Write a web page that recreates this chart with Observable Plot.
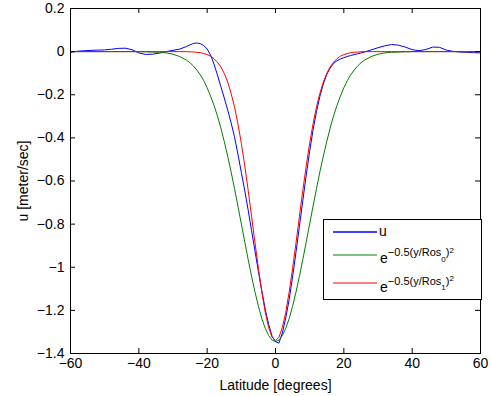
<!DOCTYPE html>
<html><head><meta charset="utf-8">
<script src="https://cdn.jsdelivr.net/npm/d3@7"></script>
<script src="https://cdn.jsdelivr.net/npm/@observablehq/plot@0.6"></script>
<style>
body{margin:0;background:#fff;}
#wrap{position:relative;width:491px;height:396px;font-family:"Liberation Sans",Arial,sans-serif;}
#legend{position:absolute;left:323px;top:219px;}
</style></head><body><div id="wrap"></div>
<script>
// Latitude grid (degrees)
const lat = [-60,-58,-56,-54,-52,-50,-48,-46,-44,-42,-40,-38,-36,-34,-32,-30,-28,
  -26,-25,-24,-23,-22,-21,-20,-19,-18,-17,-16,-15,-14,-13,-12,-11,-10,-9,-8,-7,-6,-5,-4,-3,-2,-1,
  0,
  1,2,3,4,5,6,7,8,9,10,11,12,13,14,15,16,17,18,19,20,21,22,23,24,25,26,
  28,30,32,34,36,38,40,42,44,46,48,50,52,54,56,58,60];

// observed u (blue)
const uObs = [-0.003,0.002,0.004,0.006,0.007,0.008,0.011,0.015,0.016,0.009,-0.006,-0.013,-0.012,-0.007,0.000,0.006,0.012,
  0.024,0.032,0.038,0.040,0.037,0.028,0.012,-0.016,-0.058,-0.108,-0.162,-0.215,-0.270,-0.330,-0.395,-0.475,-0.560,-0.645,-0.735,-0.830,-0.925,-1.020,-1.110,-1.195,-1.265,-1.320,
  -1.345,
  -1.352,-1.305,-1.235,-1.150,-1.045,-0.930,-0.810,-0.690,-0.572,-0.462,-0.362,-0.278,-0.207,-0.150,-0.106,-0.076,-0.055,-0.042,-0.034,-0.028,-0.023,-0.018,-0.014,-0.010,-0.006,-0.002,
  0.008,0.018,0.027,0.033,0.030,0.021,0.009,0.004,0.010,0.021,0.020,0.007,0.001,-0.002,-0.003,-0.005,-0.006];

// e^{-0.5(y/Ros0)^2} fit (green)
const gauss0 = [0,0,0,0,0,0,0,0,0,0,0,-0.001,-0.002,-0.003,-0.006,-0.012,-0.023,
  -0.040,-0.052,-0.067,-0.086,-0.108,-0.135,-0.168,-0.206,-0.249,-0.298,-0.354,-0.417,-0.485,-0.557,-0.635,-0.716,-0.799,-0.882,-0.964,-1.042,-1.115,-1.181,-1.238,-1.283,-1.317,-1.338,
  -1.345,
  -1.338,-1.317,-1.283,-1.238,-1.181,-1.115,-1.042,-0.964,-0.882,-0.799,-0.716,-0.635,-0.557,-0.485,-0.417,-0.354,-0.298,-0.249,-0.206,-0.168,-0.135,-0.108,-0.086,-0.067,-0.052,-0.040,
  -0.023,-0.012,-0.006,-0.003,-0.002,-0.001,0,0,0,0,0,0,0,0,0,0,0];

// e^{-0.5(y/Ros1)^2} fit (red)
const gauss1 = [0,0,0,0,0,0,0,0,0,0,0,0,0,0,0,0,0,
  0,-0.001,-0.002,-0.003,-0.005,-0.009,-0.014,-0.021,-0.033,-0.049,-0.071,-0.101,-0.141,-0.193,-0.256,-0.334,-0.425,-0.529,-0.643,-0.764,-0.887,-1.005,-1.115,-1.209,-1.280,-1.325,
  -1.340,
  -1.325,-1.280,-1.209,-1.115,-1.005,-0.887,-0.764,-0.643,-0.529,-0.425,-0.334,-0.256,-0.193,-0.141,-0.101,-0.071,-0.049,-0.033,-0.021,-0.014,-0.009,-0.005,-0.003,-0.002,-0.001,0,
  0,0,0,0,0,0,0,0,0,0,0,0,0,0,0,0,0];

const xTicks = [-60,-40,-20,0,20,40,60];
const yTicks = [0.2,0,-0.2,-0.4,-0.6,-0.8,-1,-1.2,-1.4];
const xLabel = "Latitude [degrees]";
const yLabel = "u [meter/sec]";
const seriesColors = ["#0000ff","#008000","#ff0000"];
const subLabels = ["0","1"];

const rows = lat.map((x,i)=>({lat:x,u:uObs[i],g0:gauss0[i],g1:gauss1[i]}));
const W=491,H=396,ML=70,MR=11,MT=8,MB=43;
const iw=W-ML-MR, ih=H-MT-MB;
const tick=5;
const fmt = d => (d<0?"\u2212":"")+String(Math.abs(Math.round(d*10)/10));

const chart = Plot.plot({
  width:W,height:H,marginLeft:ML,marginRight:MR,marginTop:MT,marginBottom:MB,
  style:{fontFamily:'"Liberation Sans", Arial, sans-serif',fontSize:"14px",color:"black",background:"white"},
  x:{domain:[-60,60]},
  y:{domain:[-1.4,0.2]},
  marks:[
    Plot.line(rows,{x:"lat",y:"u",stroke:seriesColors[0],strokeWidth:1}),
    Plot.line(rows,{x:"lat",y:"g0",stroke:seriesColors[1],strokeWidth:1}),
    Plot.line(rows,{x:"lat",y:"g1",stroke:seriesColors[2],strokeWidth:1}),
    Plot.ruleX(xTicks,{x:d=>d,insetTop:ih-tick,stroke:"black"}),
    Plot.ruleX(xTicks,{x:d=>d,insetBottom:ih-tick,stroke:"black"}),
    Plot.ruleY(yTicks,{y:d=>d,insetRight:iw-tick,stroke:"black"}),
    Plot.ruleY(yTicks,{y:d=>d,insetLeft:iw-tick,stroke:"black"}),
    Plot.frame({stroke:"black",strokeWidth:1}),
    Plot.axisX({ticks:xTicks,tickSize:0,tickPadding:5,tickFormat:fmt,fontSize:14,label:xLabel,labelAnchor:"center",labelOffset:36,labelArrow:"none"}),
    Plot.axisY({ticks:yTicks,tickSize:0,tickPadding:6,tickFormat:fmt,fontSize:14,label:yLabel,labelAnchor:"center",labelOffset:52,labelArrow:"none"})
  ]
});
const wrap=document.getElementById("wrap");
wrap.appendChild(chart);

const lg=document.createElement("div");
lg.id="legend";
const ff='font-family="Liberation Sans, Arial, sans-serif"';
function gaussText(y, sub){
  return `<text x="57" y="${y}" ${ff} font-size="14" fill="black">e<tspan font-size="11" dy="-7">\u22120.5(y/Ros</tspan><tspan font-size="8" dy="5.7">${sub}</tspan><tspan font-size="11" dy="-5.7">)</tspan><tspan font-size="8" dy="-3.3">2</tspan></text>`;
}
lg.innerHTML = `<svg width="159" height="81" xmlns="http://www.w3.org/2000/svg">
<rect x="0.5" y="0.5" width="158" height="80" fill="white" stroke="black" stroke-width="1"/>
<line x1="10" x2="54" y1="13" y2="13" stroke="${seriesColors[0]}" stroke-width="1.3"/>
<text x="56" y="17" ${ff} font-size="14" fill="black">u</text>
<line x1="10" x2="54" y1="36" y2="36" stroke="${seriesColors[1]}" stroke-width="1"/>
${gaussText(44.3, subLabels[0])}
<line x1="10" x2="54" y1="64" y2="64" stroke="${seriesColors[2]}" stroke-width="1"/>
${gaussText(72.5, subLabels[1])}
</svg>`;
wrap.appendChild(lg);
</script></body></html>
